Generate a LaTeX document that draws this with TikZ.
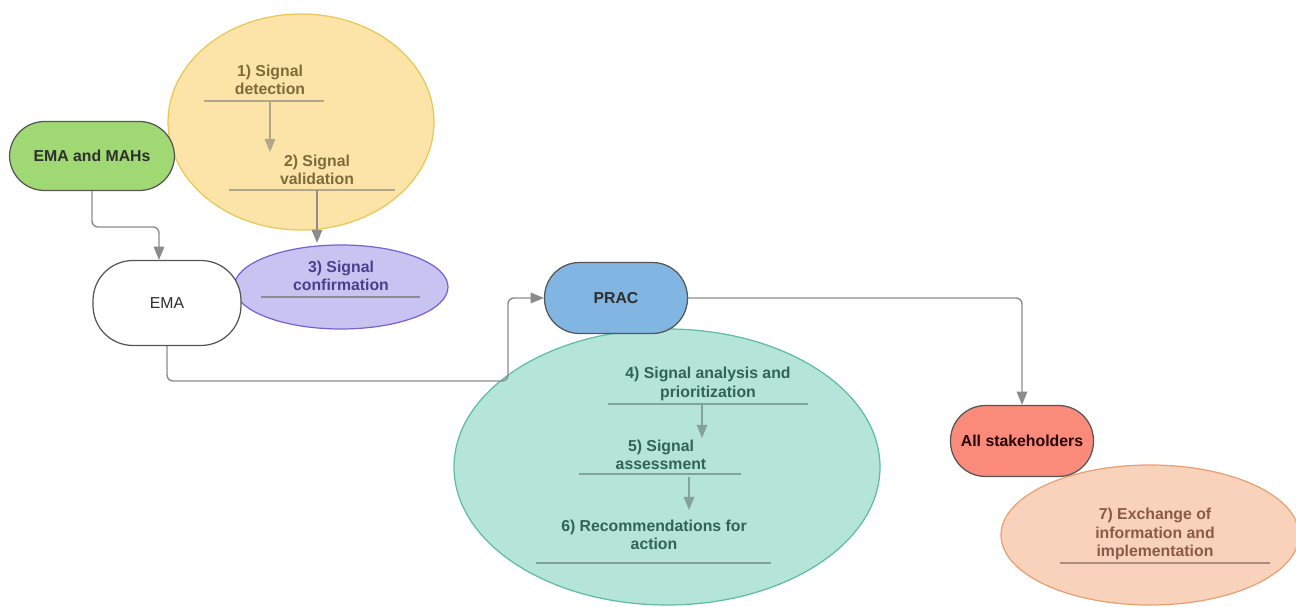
\documentclass[tikz,border=0pt]{standalone}
\usepackage{fontspec}
\setmainfont{Liberation Sans}
\usepackage{tikz}
\usetikzlibrary{calc,arrows.meta,shapes.geometric}

\definecolor{ylwfill}{HTML}{FCE4A8}
\definecolor{ylwline}{HTML}{E9C656}
\definecolor{ylwtext}{HTML}{7D6B3C}
\definecolor{purfill}{HTML}{C9C3F2}
\definecolor{purline}{HTML}{7563D6}
\definecolor{purtext}{HTML}{4B3F8C}
\definecolor{grnfill}{HTML}{B4E5D8}
\definecolor{grnline}{HTML}{5DBE9F}
\definecolor{grntext}{HTML}{2F6457}
\definecolor{orgfill}{HTML}{F9D2BC}
\definecolor{orgline}{HTML}{E8A071}
\definecolor{orgtext}{HTML}{8A5A48}
\definecolor{boxline}{HTML}{555555}
\definecolor{boxtext}{HTML}{2E2E2E}
\definecolor{mahfill}{HTML}{A0D874}
\definecolor{pracfill}{HTML}{82B6E2}
\definecolor{stakefill}{HTML}{FA8B7A}
\definecolor{arrowgray}{HTML}{8C8C8C}

\begin{document}
\begin{tikzpicture}[x=0.02cm, y=-0.02cm,
    every node/.style={font=\bfseries\fontsize{9}{10.5}\selectfont, align=center},
    actor/.style={draw=boxline, line width=0.7pt, rounded corners=0.7cm, text=boxtext,
        minimum width=2.86cm, minimum height=1.42cm},
    flow/.style={draw=arrowgray, line width=0.8pt, rounded corners=0.12cm,
        -{Triangle[length=7.5pt, width=6pt]}},
    underline/.style={line width=0.6pt}]
    \useasboundingbox (0,0) rectangle (1296,607);

    %
    \fill[ylwfill, draw=ylwline, line width=0.7pt] (301,122) ellipse [x radius=133, y radius=108];
    \fill[purfill, draw=purline, line width=0.7pt] (341,287) ellipse [x radius=107, y radius=42];
    \fill[grnfill, draw=grnline, line width=0.7pt] (667,467) ellipse [x radius=213, y radius=138];
    \fill[orgfill, draw=orgline, line width=0.7pt] (1150,535) ellipse [x radius=149, y radius=70];

    %
    \node[actor, fill=mahfill, minimum width=3.3cm, minimum height=1.38cm]
        (emamah) at (92,156) {EMA and MAHs};
    \node[actor, fill=white, font=\fontsize{9}{10.5}\selectfont, minimum width=2.96cm,
        minimum height=1.7cm, rounded corners=0.8cm] (ema) at (167,303) {EMA};
    \node[actor, fill=pracfill] (prac) at (616,298) {PRAC};
    \node[actor, fill=stakefill, text=black!85!red] (stake) at (1022,441) {All stakeholders};

    %
    \node[text=ylwtext] (s1) at (270,80) {1) Signal\\detection};
    \node[text=ylwtext] (s2) at (317,170) {2) Signal\\validation};
    \node[text=purtext] (s3) at (341,276) {3) Signal\\confirmation};
    \node[text=grntext] (s4) at (708,384) {4) Signal analysis and\\prioritization};
    \node[text=grntext] (s5) at (661,455) {5) Signal\\assessment};
    \node[text=grntext] (s6) at (654,535) {6) Recommendations for\\action};
    \node[text=orgtext] (s7) at (1155,534) {7) Exchange of\\information and\\implementation};

    %
    \coordinate (u1a) at (204,101); \coordinate (u1b) at (324,101);
    \coordinate (u2a) at (229,190); \coordinate (u2b) at (395,190);
    \coordinate (u3a) at (261,297); \coordinate (u3b) at (420,297);
    \coordinate (u4a) at (608,404); \coordinate (u4b) at (808,404);
    \coordinate (u5a) at (579,474); \coordinate (u5b) at (741,474);
    \coordinate (u6a) at (536,563); \coordinate (u6b) at (771,563);
    \coordinate (u7a) at (1060,563); \coordinate (u7b) at (1270,563);
    \draw[underline, ylwtext!60] (u1a) -- (u1b);
    \draw[underline, ylwtext!60] (u2a) -- (u2b);
    \draw[underline, arrowgray] (u3a) -- (u3b);
    \draw[underline, grntext!60] (u4a) -- (u4b);
    \draw[underline, grntext!60] (u5a) -- (u5b);
    \draw[underline, grntext!60] (u6a) -- (u6b);
    \draw[underline, orgtext!70] (u7a) -- (u7b);

    %
    \draw[flow, draw=ylwtext!60] (270,101) -- (270,152);
    \draw[flow] (317,190) -- (317,243);
    \draw[flow, draw=grntext!60] (702,404) -- (702,438);
    \draw[flow, draw=grntext!60] (689,477) -- (689,510);

    %
    \draw[flow] (emamah.south) -- (92,227) -| (ema.north -| 159,0);
    \draw[flow] (ema.south) -- (167,381) -- (508,381) |- (prac.west);
    \draw[flow] (prac.east) -| (stake.north);

\end{tikzpicture}
\end{document}
